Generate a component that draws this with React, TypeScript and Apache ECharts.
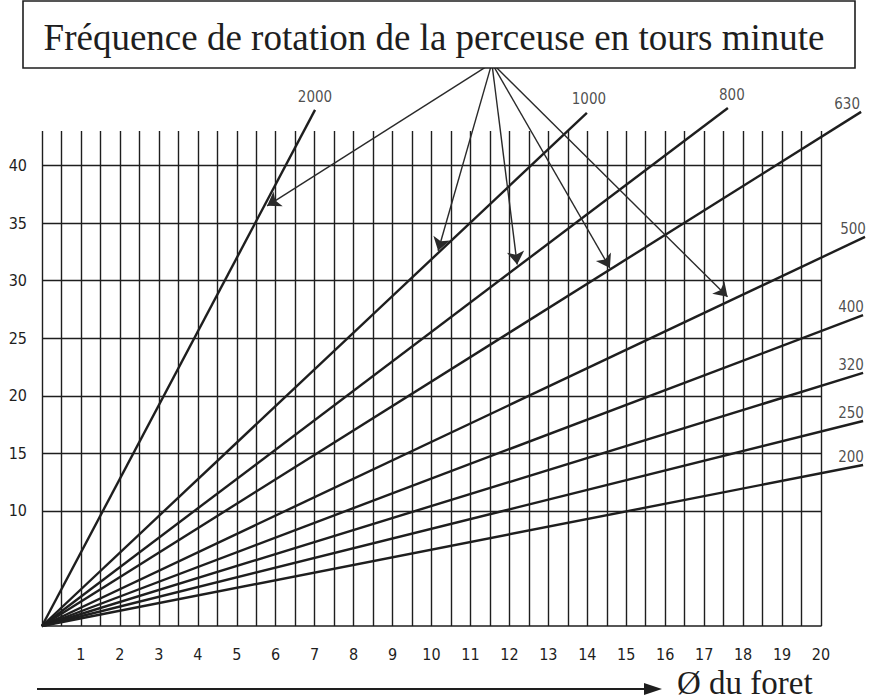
import React, { useEffect, useRef } from 'react';
import * as echarts from 'echarts';

// ---- data ----
const speeds = ['2000', '1000', '800', '630', '500', '400', '320', '250', '200'];
const rayEndX = [7.01, 13.99, 17.61, 21.03, 21.13, 21.08, 21.08, 21.08, 21.08];
const rayEndY = [44.83, 44.57, 45.0, 44.66, 33.8, 27.0, 21.98, 17.81, 13.99];

const arrowFrom = [11.55, 48.9];
const arrowToX = [5.78, 10.17, 12.2, 14.58, 17.6];
const arrowToY = [36.5, 32.6, 31.4, 31.1, 28.6];

const yGridLevels = [10, 15, 20, 25, 30, 35, 40];
const yTickLabels = [10, 15, 20, 25, 30, 35, 40];
const xTickLabels = [1, 2, 3, 4, 5, 6, 7, 8, 9, 10, 11, 12, 13, 14, 15, 16, 17, 18, 19, 20];

const titleText = 'Fréquence de rotation de la perceuse en tours minute';
const xAxisTitle = 'Ø du foret';

// ---- styling ----
const INK = '#1e1e1e';
const NARROW = '"Liberation Sans Narrow", "DejaVu Sans Condensed", "Arial Narrow", "DejaVu Sans", sans-serif';
const SERIF = '"Liberation Serif", "DejaVu Serif", serif';
// label placement relative to each ray end [dx, dy]
const labelOffsets = [
  [0, -5], [2, -6], [4, -5], [-14, 0], [-12, 0], [-12, 0], [-12, 0], [-12, 0], [-12, 0],
];

export default function App() {
  const ref = useRef<HTMLDivElement>(null);
  useEffect(() => {
    const chart = echarts.init(ref.current!, null, { renderer: 'svg' });

    const option: any = {
      animation: false,
      backgroundColor: '#ffffff',
      grid: { left: 42, right: 57, top: 131, bottom: 74, containLabel: false },
      xAxis: {
        type: 'value',
        min: 0,
        max: 20,
        interval: 0.5,
        axisLine: { show: true, onZero: false, lineStyle: { color: INK, width: 1.6 } },
        axisTick: { show: false },
        axisLabel: {
          formatter: (v: number) => (xTickLabels.includes(v) ? String(v) : ''),
          margin: 20,
          fontSize: 16,
          color: INK,
          fontFamily: NARROW,
        },
        splitLine: { show: true, lineStyle: { color: INK, width: 1.4 } },
      },
      yAxis: {
        type: 'value',
        min: 0,
        max: 43,
        interval: 5,
        axisLine: { show: false },
        axisTick: { show: false },
        splitLine: { show: false },
        axisLabel: {
          formatter: (v: number) => (yTickLabels.includes(v) ? String(v) : ''),
          margin: 15,
          fontSize: 16,
          color: INK,
          fontFamily: NARROW,
        },
      },
      series: [
        {
          type: 'lines',
          coordinateSystem: 'cartesian2d',
          silent: true,
          z: 2,
          lineStyle: { color: INK, width: 1.4, opacity: 1 },
          data: yGridLevels.map((v) => ({ coords: [[0, v], [20, v]] })),
        },
        {
          type: 'lines',
          coordinateSystem: 'cartesian2d',
          silent: true,
          clip: false,
          z: 5,
          lineStyle: { color: INK, width: 2.4, opacity: 1 },
          data: speeds.map((s, i) => ({ name: s, coords: [[0, 0], [rayEndX[i], rayEndY[i]]] })),
        },
        {
          type: 'scatter',
          silent: true,
          clip: false,
          symbolSize: 1,
          itemStyle: { color: 'rgba(0,0,0,0)' },
          z: 6,
          label: {
            show: true,
            position: 'top',
            distance: 0,
            fontSize: 15,
            color: INK,
            fontFamily: NARROW,
            formatter: (p: any) => p.data.name,
          },
          data: speeds.map((s, i) => ({
            name: s,
            value: [rayEndX[i], rayEndY[i]],
            label: { offset: labelOffsets[i] },
          })),
        },
        {
          type: 'lines',
          coordinateSystem: 'cartesian2d',
          silent: true,
          clip: false,
          z: 7,
          symbol: ['none', 'arrow'],
          symbolSize: 13,
          lineStyle: { color: '#2a2a2a', width: 1.4, opacity: 1 },
          data: arrowToX.map((x, i) => ({ coords: [arrowFrom, [x, arrowToY[i]]] })),
        },
      ],
      graphic: [
        {
          type: 'rect',
          shape: { x: 23, y: 1, width: 832, height: 67 },
          style: { fill: '#fff', stroke: INK, lineWidth: 1.6 },
          z: 10,
        },
        {
          type: 'text',
          x: 434,
          y: 37,
          z: 11,
          style: {
            text: titleText,
            fontSize: 37,
            fontFamily: SERIF,
            fill: INK,
            align: 'center',
            verticalAlign: 'middle',
          },
        },
        {
          type: 'line',
          shape: { x1: 37, y1: 689, x2: 650, y2: 689 },
          style: { stroke: INK, lineWidth: 1.8 },
        },
        {
          type: 'polygon',
          shape: { points: [[662, 689], [644, 683], [644, 695]] },
          style: { fill: INK },
        },
        {
          type: 'text',
          x: 677,
          y: 683,
          style: {
            text: xAxisTitle,
            fontSize: 33,
            fontFamily: SERIF,
            fill: INK,
            align: 'left',
            verticalAlign: 'middle',
          },
        },
      ],
    };

    chart.setOption(option);
    return () => chart.dispose();
  }, []);

  return (
    <div
      ref={ref}
      style={{ position: 'absolute', left: 0, top: 0, width: 878, height: 700, background: '#fff' }}
    />
  );
}
